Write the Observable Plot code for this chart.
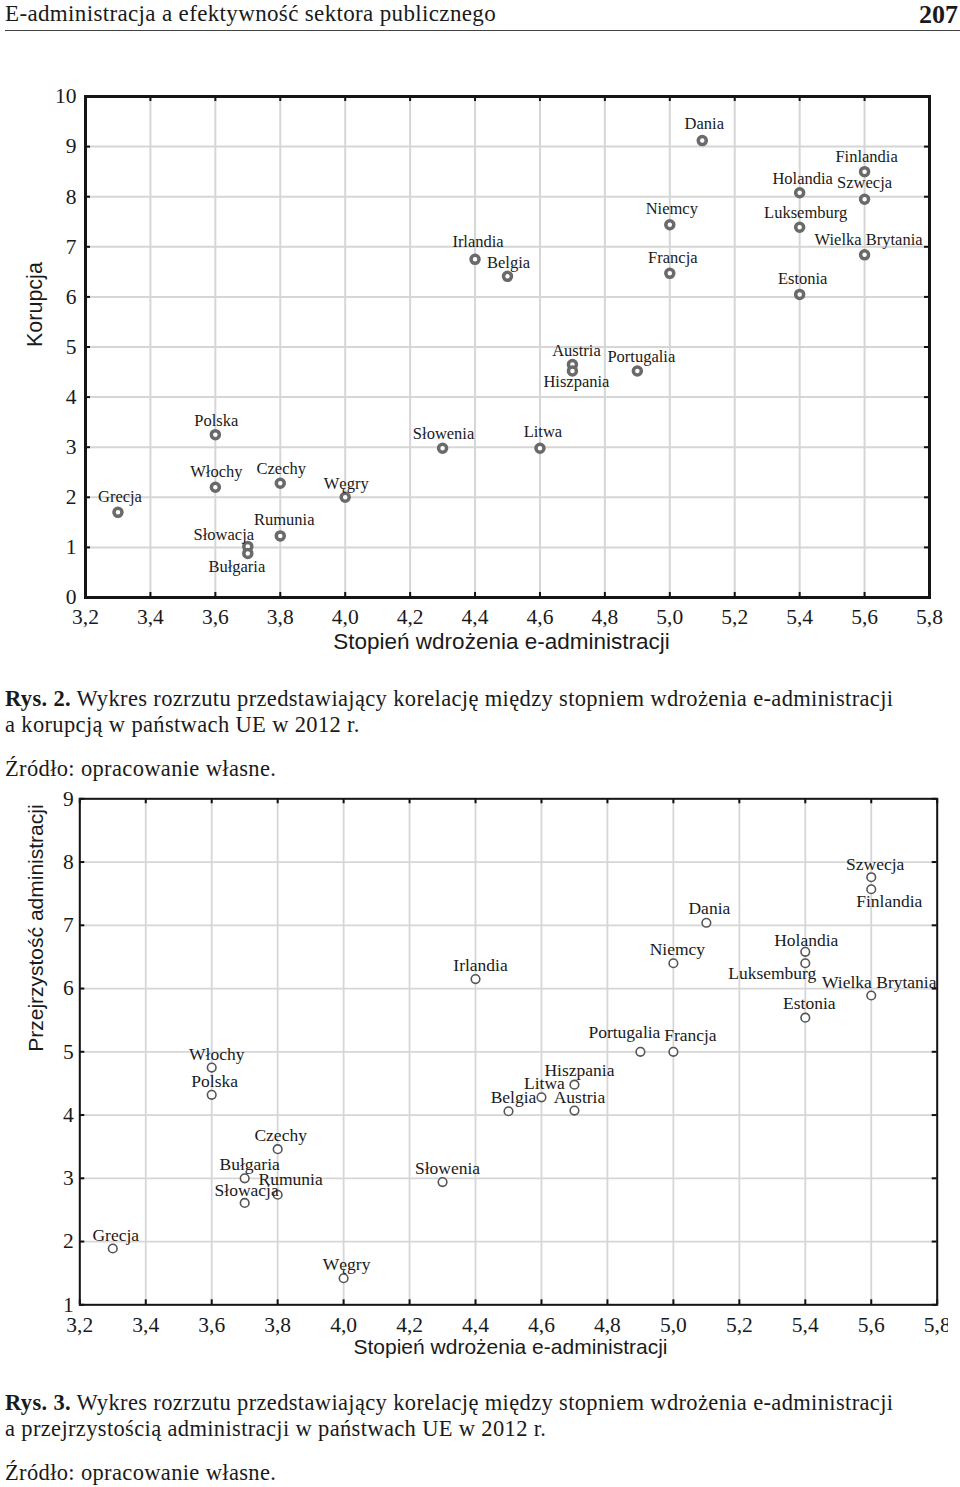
<!DOCTYPE html>
<html><head><meta charset="utf-8">
<script src="https://cdn.jsdelivr.net/npm/d3@7"></script>
<script src="https://cdn.jsdelivr.net/npm/@observablehq/plot@0.6"></script>
<style>
body{margin:0;background:#fff;}
#page{position:relative;width:960px;height:1487px;overflow:hidden;background:#fff;}
.serif{font-family:"Liberation Serif","Times New Roman",serif;color:#1a1a1a;}
.sans{font-family:"Liberation Sans",Arial,sans-serif;color:#1a1a1a;}
.abs{position:absolute;white-space:nowrap;}
.cap{font-size:22.5px;line-height:26px;letter-spacing:0.35px;z-index:3;}
.chart{z-index:1;}
</style></head>
<body><div id="page">
<div class="abs serif" style="left:5px;top:1px;font-size:23px;letter-spacing:0.35px;">E-administracja a efektywność sektora publicznego</div>
<div class="abs serif" style="right:2px;top:0px;font-size:26px;font-weight:bold;">207</div>
<div class="abs" style="left:5px;top:30px;width:955px;height:0;border-top:1.5px solid #444;"></div>
<div id="c1" class="abs chart" style="left:0;top:60px;width:960px;"></div>
<div id="c2" class="abs chart" style="left:0;top:770px;width:948px;overflow:hidden;"></div>
<div class="abs serif cap" style="left:5px;top:686px;"><b>Rys. 2.</b> Wykres rozrzutu przedstawiający korelację między stopniem wdrożenia e-administracji<br>a korupcją w państwach UE w 2012 r.</div>
<div class="abs serif cap" style="left:5px;top:756px;">Źródło: opracowanie własne.</div>
<div class="abs serif cap" style="left:5px;top:1390px;"><b>Rys. 3.</b> Wykres rozrzutu przedstawiający korelację między stopniem wdrożenia e-administracji<br>a przejrzystością administracji w państwach UE w 2012 r.</div>
<div class="abs serif cap" style="left:5px;top:1460px;">Źródło: opracowanie własne.</div>
</div>
<script>
// ---- data ----
const countries = ["Grecja","Polska","Włochy","Czechy","Węgry","Rumunia","Słowacja","Bułgaria","Słowenia","Austria","Hiszpania","Portugalia","Litwa","Irlandia","Belgia","Dania","Niemcy","Francja","Holandia","Luksemburg","Estonia","Finlandia","Szwecja","Wielka Brytania"];
const eAdmin = [3.3,3.6,3.6,3.8,4.0,3.8,3.7,3.7,4.3,4.7,4.7,4.9,4.6,4.4,4.5,5.1,5.0,5.0,5.4,5.4,5.4,5.6,5.6,5.6];
const korupcja = [1.7,3.25,2.2,2.28,2.0,1.23,1.02,0.88,2.98,4.65,4.52,4.52,2.98,6.75,6.41,9.12,7.44,6.47,8.08,7.39,6.05,8.5,7.95,6.84];
const przejrzystosc = [1.89,4.32,4.75,3.46,1.42,2.74,2.61,3.0,2.94,4.07,4.48,5.0,4.28,6.15,4.06,7.04,6.4,5.0,6.58,6.4,5.54,7.57,7.76,5.89];
const xTicks = [3.2,3.4,3.6,3.8,4.0,4.2,4.4,4.6,4.8,5.0,5.2,5.4,5.6,5.8];
const yTicks1 = [0,1,2,3,4,5,6,7,8,9,10];
const yTicks2 = [1,2,3,4,5,6,7,8,9];
const xLabel = "Stopień wdrożenia e-administracji";
const yLabel1 = "Korupcja";
const yLabel2 = "Przejrzystość administracji";

// ---- label placement (style) ----
const off1 = {"Irlandia":[3,-18],"Belgia":[1,-14],"Dania":[2,-17],"Słowacja":[-24,-12],"Bułgaria":[-11,13],"Hiszpania":[4,11],"Rumunia":[4,-16],"Grecja":[2,-16],"Estonia":[3,-16],"Wielka Brytania":[4,-15],"Austria":[4,-14],"Portugalia":[4,-14],"Litwa":[3,-16],"Luksemburg":[6,-15],"Holandia":[3,-14],"Szwecja":[0,-16],"Finlandia":[2,-15],"Niemcy":[2,-16],"Francja":[3,-16],"Polska":[1,-14],"Włochy":[1,-16],"Czechy":[1,-15],"Węgry":[1,-14],"Słowenia":[1,-14]};
const off2 = {"Szwecja":[4,-13],"Finlandia":[18,12],"Dania":[3,-14],"Niemcy":[4,-14],"Holandia":[1,-11],"Luksemburg":[-33,10],"Wielka Brytania":[8,-13],"Estonia":[4,-14],"Portugalia":[-16,-19],"Francja":[17,-16],"Hiszpania":[5,-14],"Litwa":[3,-14],"Belgia":[5,-14],"Austria":[5,-13],"Irlandia":[5,-14],"Włochy":[5,-13],"Polska":[3,-13],"Czechy":[3,-14],"Bułgaria":[5,-14],"Rumunia":[13,-15],"Słowacja":[2,-13],"Grecja":[3,-13],"Węgry":[3,-14],"Słowenia":[5,-14]};

const SERIF = "Liberation Serif, Times New Roman, serif";
const SANS = "Liberation Sans, Arial, sans-serif";
const fmtX = d => d.toFixed(1).replace(".", ",");
const idx = countries.map((_, i) => i);

function chart({yVals, yTicks, yDomain, yLabel, off, W, H, ml, mr, mt, mb, frameW, gridW, tickLen, dotR, dotSW, dotStroke, labelSize, tickSize, xPad, yPad, xLabDy, xLabDx, xLabSize, yLabDx, yLabSize, clip}) {
  const fw = W - ml - mr, fh = H - mt - mb;
  const labelMarks = idx.map(i => {
    const o = off[countries[i]] || [0, -14];
    return Plot.text([i], {x: j => eAdmin[j], y: j => yVals[j], text: j => countries[j], dx: o[0], dy: o[1], fontSize: labelSize, fontFamily: SERIF, fill: "#1a1a1a", clip});
  });
  return Plot.plot({
    width: W, height: H, marginLeft: ml, marginRight: mr, marginTop: mt, marginBottom: mb,
    x: {domain: [3.2, 5.8]}, y: {domain: yDomain},
    style: {background: "transparent", color: "#1a1a1a", maxWidth: "none", overflow: "visible"},
    marks: [
      Plot.gridX(xTicks, {stroke: "#d6d6d6", strokeOpacity: 1, strokeWidth: gridW}),
      Plot.gridY(yTicks, {stroke: "#d6d6d6", strokeOpacity: 1, strokeWidth: gridW}),
      Plot.tickX(xTicks, {x: d => d, insetTop: fh - tickLen, stroke: "#111", strokeWidth: 2}),
      Plot.tickX(xTicks, {x: d => d, insetBottom: fh - tickLen, stroke: "#111", strokeWidth: 2}),
      Plot.tickY(yTicks, {y: d => d, insetRight: fw - tickLen, stroke: "#111", strokeWidth: 2}),
      Plot.tickY(yTicks, {y: d => d, insetLeft: fw - tickLen, stroke: "#111", strokeWidth: 2}),
      Plot.frame({stroke: "#151515", strokeWidth: frameW}),
      Plot.axisX(xTicks, {tickSize: 0, tickPadding: xPad, tickFormat: fmtX, fontSize: tickSize, fontFamily: SERIF, label: null}),
      Plot.axisY(yTicks, {tickSize: 0, tickPadding: yPad, tickFormat: d => String(d), fontSize: tickSize, fontFamily: SERIF, label: null}),
      Plot.dot(idx, {x: j => eAdmin[j], y: j => yVals[j], r: dotR, stroke: dotStroke, strokeWidth: dotSW, fill: "white"}),
      ...labelMarks,
      Plot.text([xLabel], {frameAnchor: "bottom", dy: xLabDy, dx: xLabDx, fontSize: xLabSize, fontFamily: SANS, fill: "#1a1a1a"}),
      Plot.text([yLabel], {frameAnchor: "left", dx: yLabDx, rotate: -90, fontSize: yLabSize, fontFamily: SANS, fill: "#1a1a1a"})
    ]
  });
}

document.getElementById("c1").append(chart({
  yVals: korupcja, yTicks: yTicks1, yDomain: [0, 10], yLabel: yLabel1, off: off1,
  W: 960, H: 600, ml: 85, mr: 31, mt: 36, mb: 63, frameW: 3, gridW: 2, tickLen: 5,
  dotR: 4, dotSW: 3.5, dotStroke: "#6a6a6a", labelSize: 16.5, tickSize: 21.5, xPad: 11, yPad: 9,
  xLabDy: 51, xLabDx: -6, xLabSize: 22.5, yLabDx: -50, yLabSize: 21.5, clip: false
}));
document.getElementById("c2").append(chart({
  yVals: przejrzystosc, yTicks: yTicks2, yDomain: [1, 9], yLabel: yLabel2, off: off2,
  W: 960, H: 600, ml: 79.3, mr: 23.3, mt: 28.3, mb: 65.7, frameW: 2, gridW: 1.8, tickLen: 5,
  dotR: 4.3, dotSW: 1.6, dotStroke: "#555", labelSize: 17.5, tickSize: 21.5, xPad: 12, yPad: 6,
  xLabDy: 49, xLabDx: 2, xLabSize: 21, yLabDx: -44, yLabSize: 21, clip: true
}));
</script>
</body></html>
